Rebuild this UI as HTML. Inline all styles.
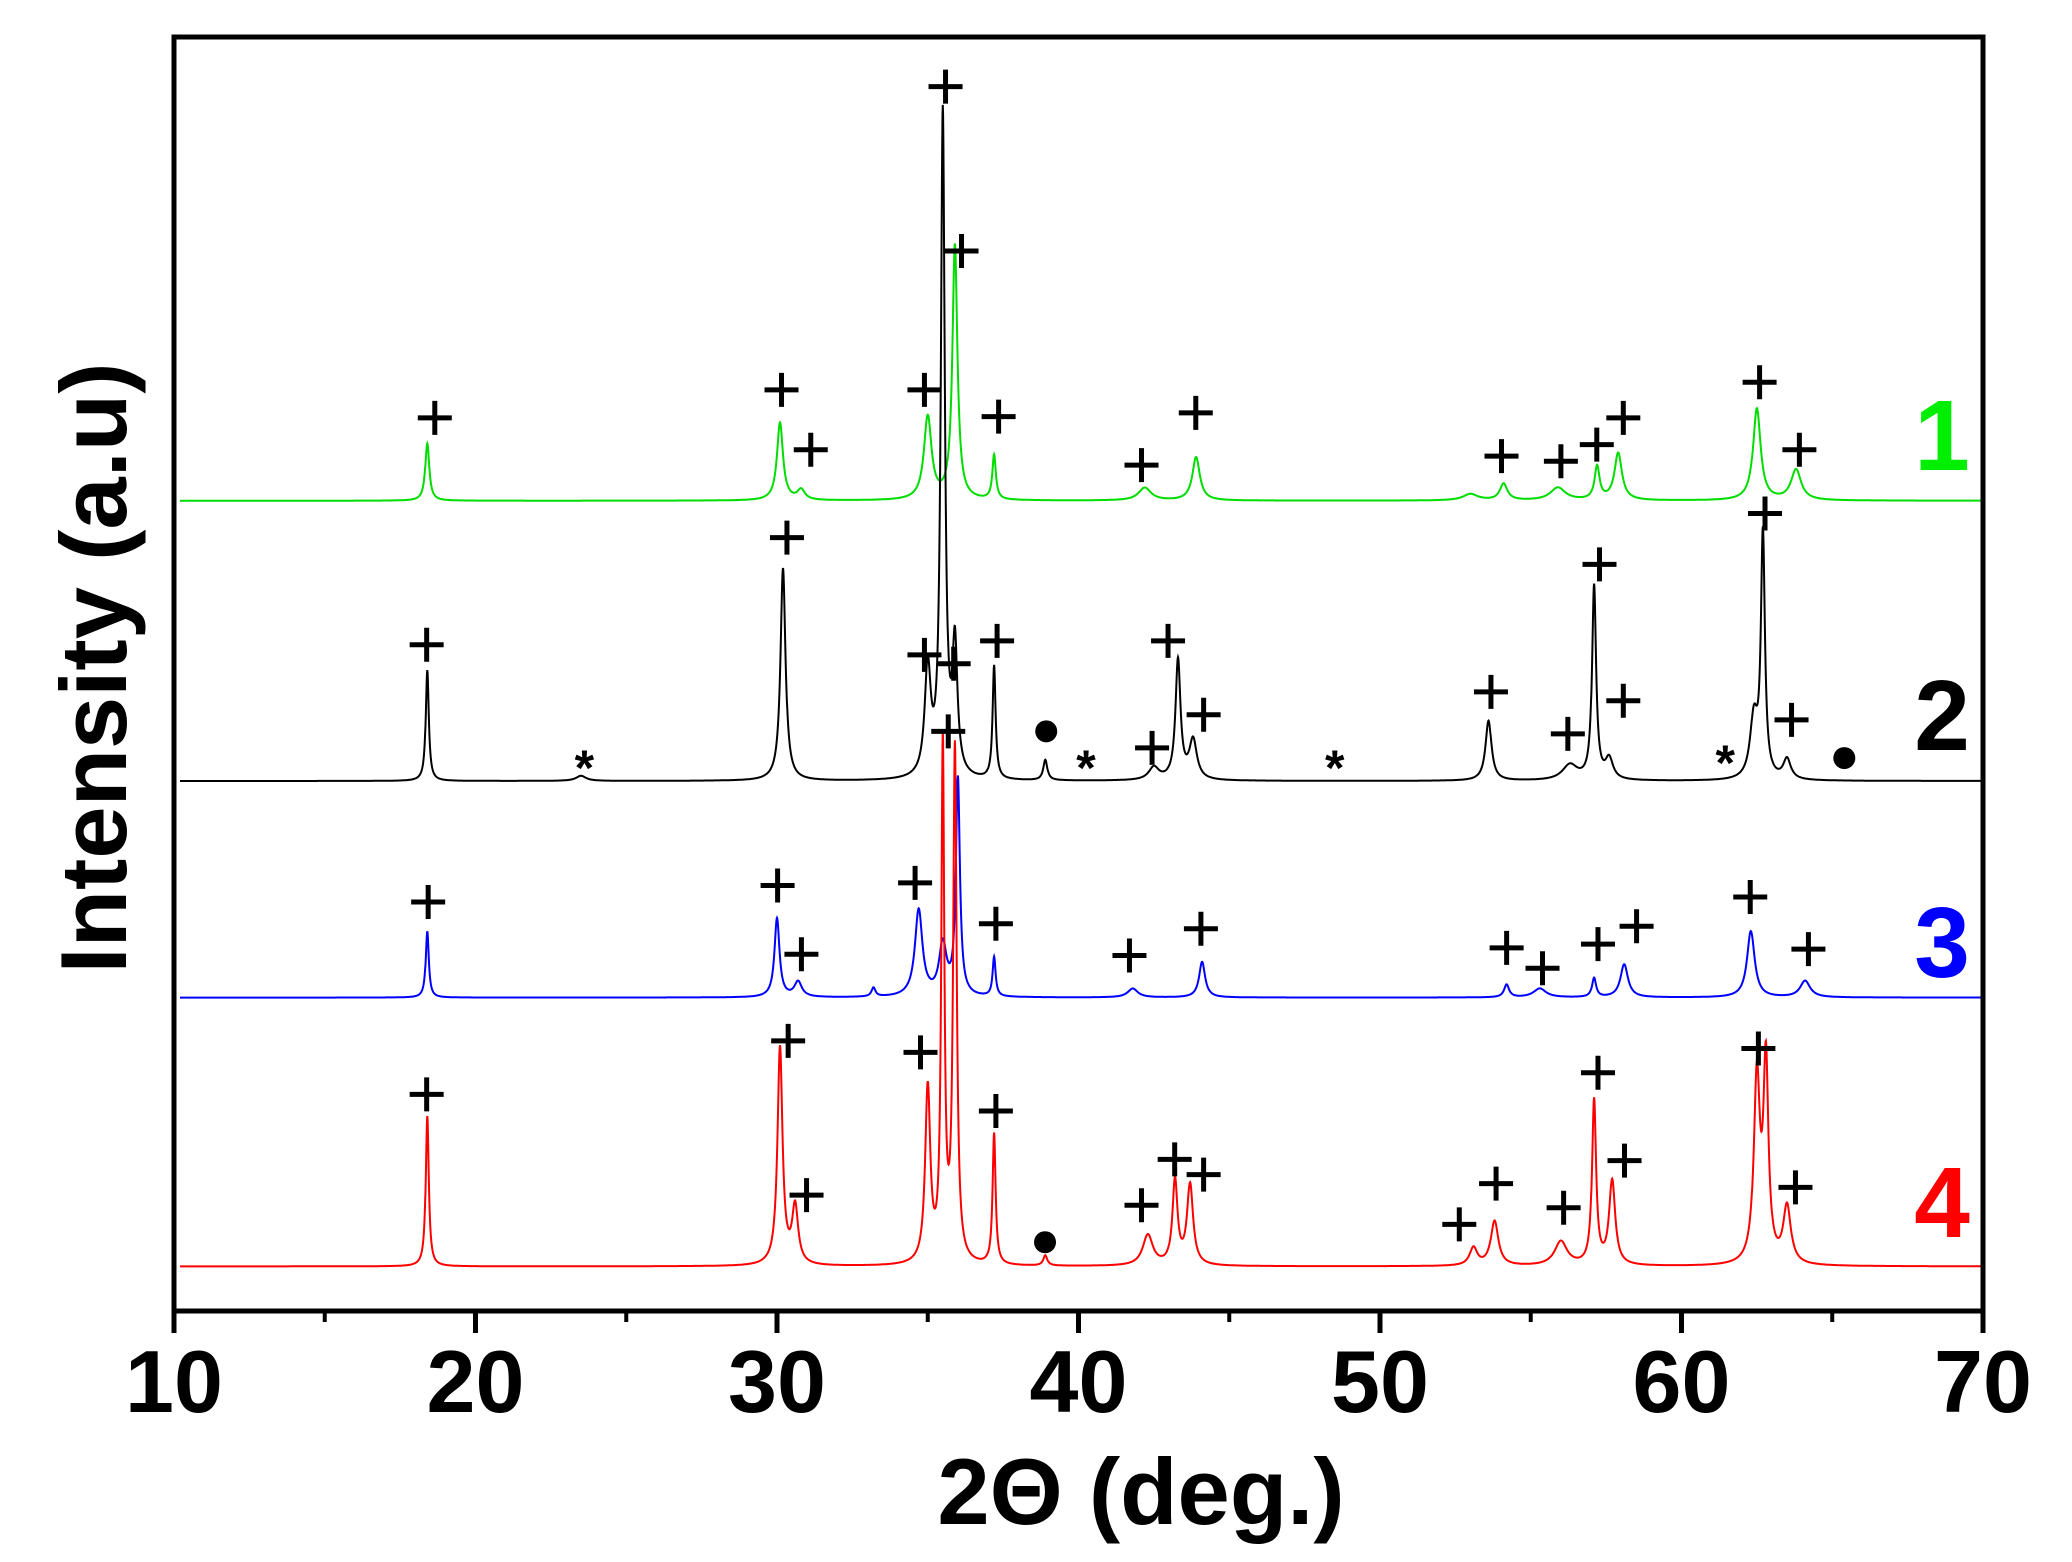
<!DOCTYPE html>
<html><head><meta charset="utf-8"><style>
html,body{margin:0;padding:0;background:#fff;}
svg{display:block;}
text{font-family:"Liberation Sans",Arial,sans-serif;font-weight:bold;}
</style></head><body>
<svg id="chart" width="2072" height="1562" viewBox="0 0 2072 1562">
<g id="series-layer"></g>
<g id="marker-layer"></g>
<rect x="174" y="37" width="1809" height="1274" fill="none" stroke="#000" stroke-width="5"/>
<g id="axis-layer"></g>
<text x="1141" y="1524" font-size="94" text-anchor="middle">2Θ (deg.)</text>
<text transform="translate(126,668) rotate(-90)" font-size="94" text-anchor="middle">Intensity (a.u)</text>
<text x="1942" y="470" font-size="100" fill="#00ee00" text-anchor="middle">1</text>
<text x="1942" y="750" font-size="100" fill="#000" text-anchor="middle">2</text>
<text x="1942" y="977" font-size="100" fill="#0000ff" text-anchor="middle">3</text>
<text x="1942" y="1237" font-size="100" fill="#ff0000" text-anchor="middle">4</text>
</svg>
<script>
const xTicks = [10,20,30,40,50,60,70];
const xMinorTicks = [15,25,35,45,55,65];

const greenOffset = 636;
const greenPos = [18.4,30.1,30.8,35.0,35.9,37.2,42.2,43.9,53.0,54.1,55.9,57.2,57.9,62.5,63.8];
const greenHeight = [45,61,8,65,200,35,10,34,5,13,10,26,37,72,24];
const greenWidth = [0.08,0.12,0.15,0.15,0.1,0.07,0.25,0.15,0.3,0.15,0.3,0.1,0.15,0.15,0.2];

const blackOffset = 416;
const blackPos = [18.4,23.5,30.2,35.0,35.5,35.9,37.2,38.9,42.5,43.3,43.8,53.6,56.3,57.1,57.6,62.4,62.7,63.5];
const blackHeight = [87,4,167,84,520,100,89,16,10,94,31,47,12,152,16,47,190,16];
const blackWidth = [0.06,0.2,0.1,0.12,0.08,0.1,0.06,0.08,0.2,0.1,0.15,0.12,0.3,0.08,0.15,0.15,0.08,0.15];

const blueOffset = 246;
const bluePos = [18.4,30.0,30.7,33.2,34.7,35.5,36.0,37.2,41.8,44.1,54.2,55.3,57.1,58.1,62.3,64.1];
const blueHeight = [52,62,12,7,68,40,170,31,7,28,10,7,15,26,52,13];
const blueWidth = [0.06,0.1,0.15,0.08,0.15,0.15,0.08,0.06,0.2,0.12,0.1,0.25,0.08,0.15,0.15,0.2];

const redOffset = 35;
const redPos = [18.4,30.1,30.6,35.0,35.5,35.9,37.2,38.9,42.3,43.2,43.7,53.1,53.8,56.0,57.1,57.7,62.5,62.8,63.5];
const redHeight = [118,171,45,137,404,402,103,8,24,66,63,14,35,19,129,66,145,155,45];
const redWidth = [0.06,0.1,0.12,0.1,0.06,0.07,0.06,0.08,0.2,0.1,0.12,0.15,0.15,0.25,0.08,0.12,0.12,0.1,0.15];

const plusGreenX = [18.65,30.15,31.12,34.89,35.59,36.12,37.35,42.09,43.89,54.03,56.0,57.19,58.07,62.59,63.91];
const plusGreenY = [701,723,676,723,961,832,702,664,705,671,667,680,701,729,676];
const plusBlackX = [18.38,30.33,34.89,35.86,35.68,37.3,42.97,42.44,44.15,53.68,56.23,57.28,58.07,62.77,63.65];
const plusBlackY = [523,607,515,508,455,526,526,442,468,486,453,586,479,626,464];
const starX = [23.61,40.25,48.5,61.45];
const starY = [430,430,430,434];
const dotX = [38.93,65.4,38.89];
const dotY = [455,434,54];
const plusBlueX = [18.43,30.02,30.81,34.58,37.26,41.69,44.06,54.2,55.39,57.23,58.51,62.28,64.21];
const plusBlueY = [321,334,280,336,304,279,300,285,269,288,302,325,284];
const plusRedX = [18.38,30.37,30.98,34.76,37.26,42.09,43.19,44.15,52.63,53.85,56.09,57.23,58.11,62.55,63.78];
const plusRedY = [170,212,91,203,157,83,119,107,68,100,81,187,118,206,97];

const X0=174, X1=1983, Y0=1311, Y1=37;
function xs(v){return X0+(v-10)*(X1-X0)/60;}
function ys(v){return Y0-v*(Y0-Y1)/1000;}
const NS="http://www.w3.org/2000/svg";

function profile(x,pos,h,w){
  let s=0;
  for(let i=0;i<pos.length;i++){const d=(x-pos[i])/w[i];s+=h[i]/(1+d*d);}
  return s;
}
function drawSeries(name,color,off,pos,h,w){
  let d="";
  for(let x=10.2;x<=69.96;x+=0.01){
    const v=off+profile(x,pos,h,w);
    d+=(d?"L":"M")+xs(x).toFixed(1)+","+ys(v).toFixed(1);
  }
  const p=document.createElementNS(NS,"path");
  p.setAttribute("d",d);p.setAttribute("fill","none");p.setAttribute("stroke",color);p.setAttribute("stroke-width","2");
  
  
  document.getElementById("series-layer").appendChild(p);
}
drawSeries("series-1-green","#00dd00",greenOffset,greenPos,greenHeight,greenWidth);
drawSeries("series-2-black","#000",blackOffset,blackPos,blackHeight,blackWidth);
drawSeries("series-3-blue","#0000ff",blueOffset,bluePos,blueHeight,blueWidth);
drawSeries("series-4-red","#ff0000",redOffset,redPos,redHeight,redWidth);

const ml=document.getElementById("marker-layer");
function plus(xa,ya,name){
  for(let i=0;i<xa.length;i++){
    const cx=xs(xa[i]),cy=ys(ya[i]);
    const g=document.createElementNS(NS,"path");
    g.setAttribute("d",`M${cx-17},${cy}H${cx+17}M${cx},${cy-17}V${cy+17}`);
    g.setAttribute("stroke","#000");g.setAttribute("stroke-width","5");
    
    
    ml.appendChild(g);
  }
}
plus(plusGreenX,plusGreenY,"phase-marker-plus");
plus(plusBlackX,plusBlackY,"phase-marker-plus");
plus(plusBlueX,plusBlueY,"phase-marker-plus");
plus(plusRedX,plusRedY,"phase-marker-plus");
for(let i=0;i<starX.length;i++){
  const t=document.createElementNS(NS,"text");
  t.setAttribute("x",xs(starX[i]));t.setAttribute("y",ys(starY[i])+22);
  t.setAttribute("font-size","50");t.setAttribute("text-anchor","middle");
  t.textContent="*";
  
  
  ml.appendChild(t);
}
for(let i=0;i<dotX.length;i++){
  const c=document.createElementNS(NS,"circle");
  c.setAttribute("cx",xs(dotX[i]));c.setAttribute("cy",ys(dotY[i]));c.setAttribute("r","11");
  
  
  ml.appendChild(c);
}

const ax=document.getElementById("axis-layer");
xTicks.forEach(v=>{
  const l=document.createElementNS(NS,"line");
  l.setAttribute("x1",xs(v));l.setAttribute("x2",xs(v));l.setAttribute("y1",Y0);l.setAttribute("y2",Y0+22);
  l.setAttribute("stroke","#000");l.setAttribute("stroke-width","5");
  
  
  ax.appendChild(l);
  const t=document.createElementNS(NS,"text");
  t.setAttribute("x",xs(v));t.setAttribute("y",1412);t.setAttribute("font-size","88");t.setAttribute("text-anchor","middle");
  t.textContent=v;
  
  
  ax.appendChild(t);
});
xMinorTicks.forEach(v=>{
  const l=document.createElementNS(NS,"line");
  l.setAttribute("x1",xs(v));l.setAttribute("x2",xs(v));l.setAttribute("y1",Y0);l.setAttribute("y2",Y0+11);
  l.setAttribute("stroke","#000");l.setAttribute("stroke-width","4");
  
  
  ax.appendChild(l);
});
</script>
</body></html>
